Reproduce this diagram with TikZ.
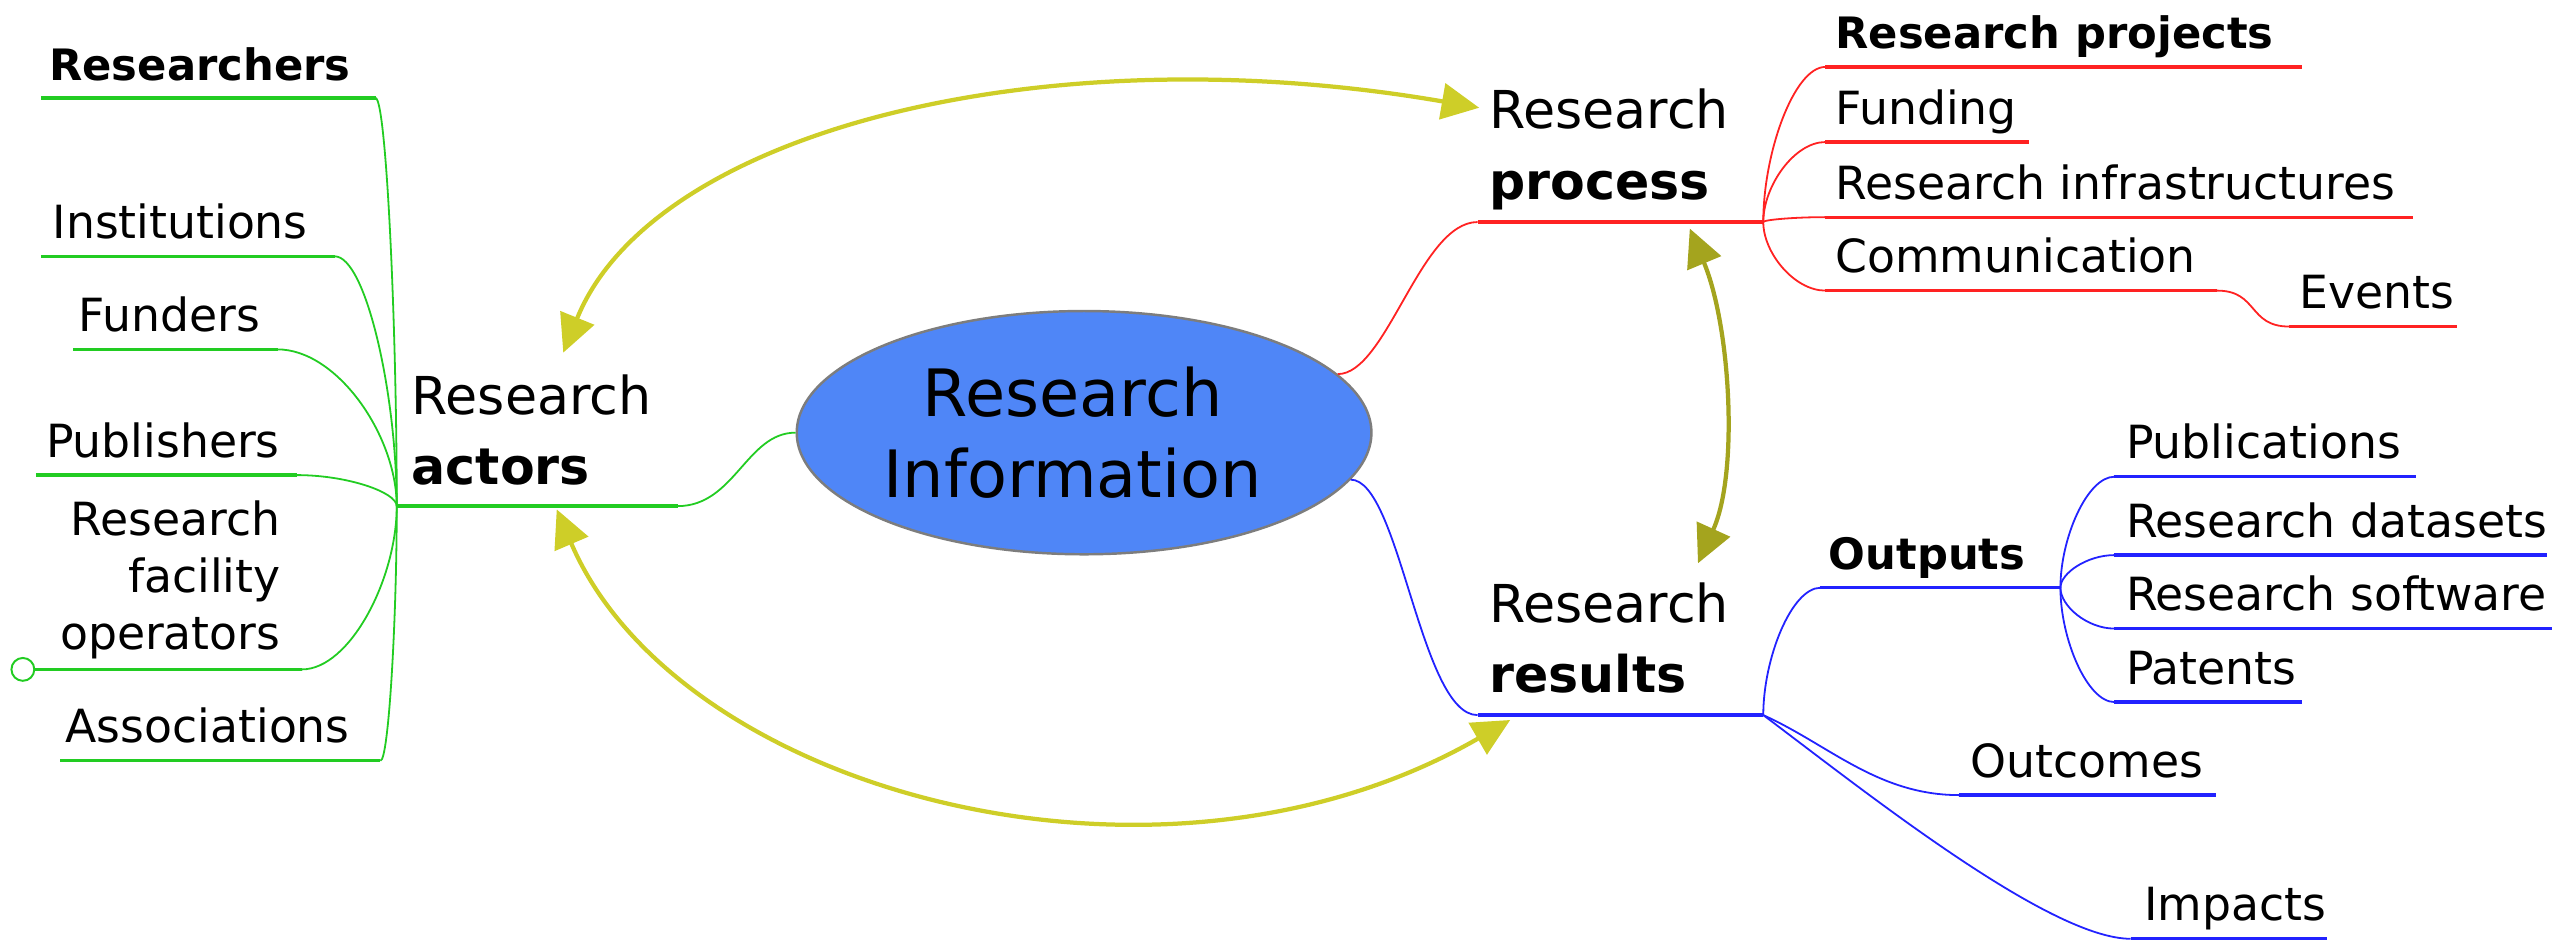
\documentclass[tikz,border=0pt]{standalone}
\usepackage{fontspec}
\setmainfont{DejaVu Sans}
\usetikzlibrary{arrows.meta,calc,shapes.geometric}
\definecolor{mgreen}{RGB}{34,204,34}
\definecolor{mred}{RGB}{255,34,34}
\definecolor{mblue}{RGB}{34,34,255}
\definecolor{myel}{RGB}{206,206,40}
\definecolor{molive}{RGB}{164,164,30}
\definecolor{ellfill}{RGB}{79,134,247}
\definecolor{ellline}{RGB}{125,125,125}
\newcommand\fs[2]{\fontsize{#1}{#2}\selectfont}
\newcommand\lcurve[3]{\draw[#1,conn] (#2) .. controls ($(#2)!0.5!(#2-|#3)$) and ($(#3)!0.45!(#3|-#2)$) .. (#3);}
\newcommand\rcurve[3]{\draw[#1,conn] (#2) .. controls ($(#2)!0.45!(#2|-#3)$) and ($(#3)!0.5!(#3-|#2)$) .. (#3);}
\begin{document}
\begin{tikzpicture}[x=1pt,y=-1pt,
  lbl/.style={inner sep=0pt, anchor=base west, font=\fs{28}{34}},
  blbl/.style={inner sep=0pt, anchor=base west, font=\fs{26.5}{32}\bfseries},
  uline/.style={line width=2pt},
  conn/.style={line width=1.1pt},
  rel/.style={line width=2.6pt, {Triangle[length=23pt,width=22pt]}-{Triangle[length=23pt,width=22pt]}},
]
\useasboundingbox (0,0) rectangle (1568,578);

% ---------- centre ----------
\node[ellipse, draw=ellline, line width=1.5pt, fill=ellfill, minimum width=352pt, minimum height=149pt, inner sep=0pt, align=center, font=\fs{40}{50}] (ri) at (664,265) {Research\hspace*{14pt}\\Information\hspace*{14pt}};

% ---------- relation arrows ----------
\coordinate (tA1) at (345,216); \coordinate (tP1) at (906,66);
\coordinate (tA2) at (341,312); \coordinate (tR1) at (925,441);
\coordinate (tP2) at (1035,140); \coordinate (tR2) at (1040,345);
\draw[rel, myel] (tA1) .. controls (400,80) and (640,20) .. (tP1);
\draw[rel, myel] (tA2) .. controls (415,485) and (710,565) .. (tR1);
\draw[rel, molive] (tP2) .. controls (1060,200) and (1065,290) .. (tR2);

% ---------- left: Research actors ----------
\coordinate (hubL) at (243,310);
\node[inner sep=0pt, anchor=base west] (act) at (252,297) {\fs{32}{43}\begin{tabular}[b]{@{}l@{}}Research\\\fs{31}{43}\bfseries actors\end{tabular}};
\coordinate (actB) at (415,310);
\draw[mgreen,uline] (hubL) -- (actB);
\draw[mgreen,conn] (actB) .. controls +(35,0) and +(-30,0) .. (ri.west);

\node[blbl] (res) at (30,49) {Researchers};
\coordinate (resA) at (25,60); \coordinate (resB) at (230,60);
\node[lbl] (inst) at (32,146) {Institutions};
\coordinate (instA) at (25,157); \coordinate (instB) at (205,157);
\node[lbl] (fund) at (48,203) {Funders};
\coordinate (fundA) at (45,214); \coordinate (fundB) at (170,214);
\node[lbl] (pub) at (28,280) {Publishers};
\coordinate (pubA) at (22,291); \coordinate (pubB) at (182,291);
\node[inner sep=0pt, anchor=base east] (rfo) at (172,398) {\fs{28}{35}\begin{tabular}[b]{@{}r@{}}Research\\facility\\operators\end{tabular}};
\node[circle, draw=mgreen, fill=white, line width=1.2pt, minimum size=14pt, inner sep=0pt] (rfoC) at (14,410) {};
\coordinate (rfoB) at (185,410);
\node[lbl] (assoc) at (40,455) {Associations};
\coordinate (assocA) at (37,466); \coordinate (assocB) at (233,466);

\draw[mgreen,uline] (resA) -- (resB);
\draw[mgreen,uline] (instA) -- (instB);
\draw[mgreen,uline] (fundA) -- (fundB);
\draw[mgreen,uline] (pubA) -- (pubB);
\draw[mgreen,uline] (rfoC.east) -- (rfoB);
\draw[mgreen,uline] (assocA) -- (assocB);
\lcurve{mgreen}{resB}{hubL}
\lcurve{mgreen}{instB}{hubL}
\lcurve{mgreen}{fundB}{hubL}
\lcurve{mgreen}{pubB}{hubL}
\lcurve{mgreen}{rfoB}{hubL}
\lcurve{mgreen}{assocB}{hubL}

% ---------- right top: Research process ----------
\coordinate (hubP) at (1080,136);
\node[inner sep=0pt, anchor=base west] (proc) at (912,122) {\fs{32}{43}\begin{tabular}[b]{@{}l@{}}Research\\\fs{31}{43}\bfseries process\end{tabular}};
\coordinate (procA) at (905,136);
\draw[mred,uline] (procA) -- (hubP);
\draw[mred,conn] (ri.13) .. controls +(30,0) and +(-35,0) .. (procA);

\node[blbl] (rproj) at (1124,30) {Research projects};
\coordinate (rprojA) at (1118,41); \coordinate (rprojB) at (1410,41);
\node[lbl] (fundg) at (1124,76) {Funding};
\coordinate (fundgA) at (1118,87); \coordinate (fundgB) at (1243,87);
\node[lbl] (rinf) at (1124,122) {Research infrastructures};
\coordinate (rinfA) at (1118,133); \coordinate (rinfB) at (1478,133);
\node[lbl] (comm) at (1124,167) {Communication};
\coordinate (commA) at (1118,178); \coordinate (commB) at (1358,178);
\node[lbl] (evt) at (1408,189) {Events};
\coordinate (evtA) at (1402,200); \coordinate (evtB) at (1505,200);

\draw[mred,uline] (rprojA) -- (rprojB);
\draw[mred,uline] (fundgA) -- (fundgB);
\draw[mred,uline] (rinfA) -- (rinfB);
\draw[mred,uline] (commA) -- (commB);
\draw[mred,uline] (evtA) -- (evtB);
\rcurve{mred}{hubP}{rprojA}
\rcurve{mred}{hubP}{fundgA}
\rcurve{mred}{hubP}{rinfA}
\rcurve{mred}{hubP}{commA}
\draw[mred,conn] (commB) .. controls +(25,0) and +(-25,0) .. (evtA);

% ---------- right bottom: Research results ----------
\coordinate (hubR) at (1080,438);
\node[inner sep=0pt, anchor=base west] (resl) at (912,424) {\fs{32}{43}\begin{tabular}[b]{@{}l@{}}Research\\\fs{31}{43}\bfseries results\end{tabular}};
\coordinate (reslA) at (905,438);
\draw[mblue,uline] (reslA) -- (hubR);
\draw[mblue,conn] (ri.-10) .. controls +(30,0) and +(-35,0) .. (reslA);

\node[blbl] (outs) at (1120,349) {Outputs};
\coordinate (outsA) at (1115,360); \coordinate (hubO) at (1262,360);
\node[lbl] (publ) at (1302,281) {Publications};
\coordinate (publA) at (1295,292); \coordinate (publB) at (1480,292);
\node[lbl] (rdat) at (1302,329) {Research datasets};
\coordinate (rdatA) at (1295,340); \coordinate (rdatB) at (1560,340);
\node[lbl] (rsoft) at (1302,374) {Research software};
\coordinate (rsoftA) at (1295,385); \coordinate (rsoftB) at (1563,385);
\node[lbl] (pat) at (1302,419) {Patents};
\coordinate (patA) at (1295,430); \coordinate (patB) at (1410,430);
\node[lbl] (outc) at (1207,476) {Outcomes};
\coordinate (outcA) at (1200,487); \coordinate (outcB) at (1357,487);
\node[lbl] (imp) at (1313,564) {Impacts};
\coordinate (impA) at (1305,575); \coordinate (impB) at (1425,575);

\draw[mblue,uline] (outsA) -- (hubO);
\draw[mblue,uline] (publA) -- (publB);
\draw[mblue,uline] (rdatA) -- (rdatB);
\draw[mblue,uline] (rsoftA) -- (rsoftB);
\draw[mblue,uline] (patA) -- (patB);
\draw[mblue,uline] (outcA) -- (outcB);
\draw[mblue,uline] (impA) -- (impB);
\rcurve{mblue}{hubR}{outsA}
\rcurve{mblue}{hubO}{publA}
\rcurve{mblue}{hubO}{rdatA}
\rcurve{mblue}{hubO}{rsoftA}
\rcurve{mblue}{hubO}{patA}
\draw[mblue,conn] (hubR) .. controls +(40,18) and +(-50,0) .. (outcA);
\draw[mblue,conn] (hubR) .. controls +(60,45) and +(-50,0) .. (impA);
\end{tikzpicture}
\end{document}
